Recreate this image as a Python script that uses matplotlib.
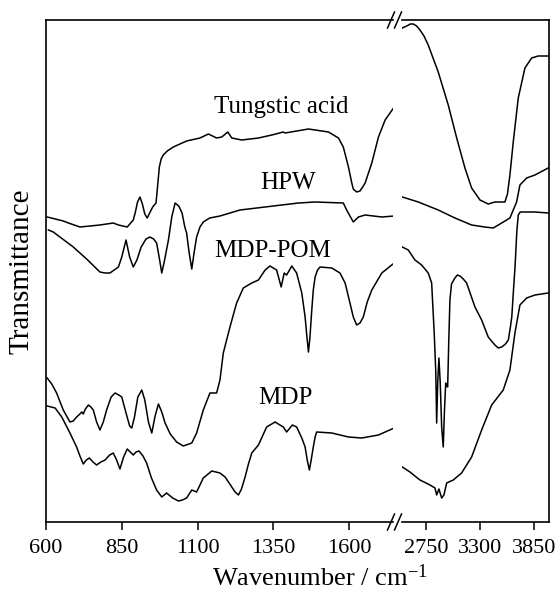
import matplotlib
matplotlib.use("Agg")
import matplotlib.pyplot as plt
from matplotlib.lines import Line2D

plt.rcParams['font.family'] = ['Liberation Serif', 'DejaVu Serif']
plt.rcParams['mathtext.fontset'] = 'custom'
plt.rcParams['mathtext.rm'] = 'Liberation Serif'
plt.rcParams['mathtext.it'] = 'Liberation Serif:italic'

# ---- spectra, low wavenumber part (600-1750 cm-1) ----
tung_wn = [604, 657, 674, 712, 778, 822, 839, 868, 888, 895, 902, 910, 918, 926, 934, 942,
           952, 963, 968, 974, 980, 987, 1000, 1020, 1064, 1108, 1136, 1163, 1180, 1200,
           1213, 1246, 1301, 1345, 1383, 1389, 1466, 1532, 1565, 1581, 1598, 1609, 1614,
           1625, 1636, 1645, 1653, 1675, 1697, 1719, 1749]
tung_t = [305, 301, 299, 295, 297, 299, 297, 295, 302, 310, 320, 325, 318, 308, 304, 309,
          315, 319, 335, 355, 363, 367, 371, 375, 381, 384, 388, 384, 385, 390,
          384, 382, 384, 387, 390, 389, 393, 390, 384, 375, 355, 339, 333,
          330, 331, 335, 339, 359, 385, 402, 415]

hpw_wn = [608, 624, 646, 690, 734, 778, 795, 811, 839, 850, 864, 876, 888, 900, 914, 930,
          943, 955, 965, 975, 982, 990, 1004, 1015, 1026, 1038, 1049, 1058, 1064, 1072,
          1081, 1088, 1097, 1108, 1119, 1140, 1174, 1240, 1323, 1433, 1488, 1581, 1592,
          1614, 1631, 1653, 1708, 1749]
hpw_t = [292, 290, 285, 275, 263, 250, 249, 249, 255, 265, 282, 265, 255, 262, 275, 283,
         285, 283, 279, 262, 249, 260, 282, 305, 319, 316, 309, 295, 289, 270,
         253, 268, 285, 295, 300, 304, 306, 312, 315, 319, 320, 319, 312,
         300, 305, 307, 305, 306]

mdppom_wn = [604, 619, 635, 657, 679, 690, 701, 712, 718, 723, 730, 740, 748, 756, 767,
             778, 789, 800, 815, 828, 840, 850, 865, 876, 883, 892, 903, 916, 926, 938,
             949, 960, 971, 982, 993, 1010, 1031, 1053, 1081, 1097, 1119, 1141, 1163,
             1174, 1185, 1207, 1229, 1251, 1279, 1301, 1323, 1339, 1361, 1376, 1386,
             1394, 1411, 1427, 1444, 1455, 1461, 1466, 1471, 1477, 1482, 1488, 1496,
             1504, 1543, 1570, 1587, 1603, 1614, 1625, 1636, 1647, 1660, 1675, 1708, 1749]
mdppom_t = [144, 138, 129, 112, 100, 101, 105, 108, 110, 108, 113, 117, 115, 112, 100,
            92, 100, 112, 125, 129, 127, 125, 108, 96, 94, 105, 125, 132, 122, 100,
            89, 106, 118, 110, 99, 88, 80, 76, 79, 89, 112, 129, 129,
            142, 169, 195, 219, 234, 239, 242, 252, 256, 252, 235, 249,
            247, 256, 249, 229, 205, 185, 170, 185, 212, 232, 245, 252,
            255, 254, 249, 239, 219, 205, 197, 199, 205, 220, 232, 249, 259]

mdp_wn = [604, 630, 652, 679, 701, 712, 723, 733, 743, 755, 767, 781, 795, 810, 822, 833,
          844, 856, 868, 878, 888, 897, 907, 920, 932, 948, 965, 982, 998, 1018, 1037,
          1050, 1064, 1081, 1097, 1119, 1147, 1174, 1191, 1213, 1224, 1235, 1245, 1257,
          1268, 1279, 1301, 1328, 1356, 1372, 1383, 1394, 1413, 1427, 1444, 1455, 1462,
          1469, 1475, 1482, 1488, 1493, 1543, 1598, 1642, 1697, 1749]
mdp_t = [116, 114, 105, 89, 75, 66, 58, 62, 64, 60, 57, 60, 62, 67, 69, 62,
         53, 65, 73, 70, 67, 70, 71, 66, 59, 44, 32, 25, 29, 24, 21,
         22, 24, 32, 30, 44, 51, 49, 45, 35, 30, 27, 33, 45,
         58, 69, 77, 95, 100, 97, 95, 90, 97, 95, 84, 75, 62,
         52, 62, 75, 85, 90, 89, 85, 84, 87, 94]

# ---- spectra, high wavenumber part (2500-4000 cm-1) ----
tung_wn2 = [2509, 2554, 2590, 2621, 2655, 2689, 2730, 2773, 2875, 2977, 3063, 3147, 3215,
            3300, 3384, 3452, 3554, 3580, 3605, 3639, 3690, 3758, 3826, 3893, 3995]
tung_t2 = [494, 496, 498, 498, 496, 492, 486, 477, 450, 417, 384, 354, 334,
           322, 318, 320, 320, 328, 347, 380, 424, 454, 464, 466, 466]

hpw_wn2 = [2509, 2672, 2875, 3045, 3215, 3347, 3435, 3521, 3605, 3673, 3707, 3775,
           3860, 3995]
hpw_t2 = [325, 320, 312, 304, 297, 295, 294, 299, 304, 320, 337, 344, 347, 354]

mdppom_wn2 = [2509, 2570, 2638, 2706, 2773, 2808, 2834, 2850, 2859, 2870, 2882, 2895,
              2910, 2926, 2938, 2951, 2961, 2971, 2982, 2994, 3010, 3045, 3070, 3096,
              3130, 3164, 3249, 3317, 3384, 3452, 3487, 3521, 3560, 3589, 3610, 3624,
              3640, 3657, 3675, 3690, 3710, 3741, 3860, 3995]
mdppom_t2 = [275, 272, 262, 257, 249, 239, 189, 150, 99, 140, 164, 140,
             95, 75, 110, 139, 136, 135, 180, 222, 238, 244, 247, 246,
             243, 239, 215, 202, 185, 177, 174, 175, 178, 182, 195, 205,
             230, 255, 290, 307, 310, 310, 310, 309]

mdp_wn2 = [2509, 2587, 2689, 2791, 2842, 2859, 2882, 2910, 2933, 2961, 3028, 3113,
           3215, 3317, 3419, 3537, 3605, 3656, 3707, 3775, 3860, 3995]
mdp_t2 = [55, 50, 42, 37, 34, 27, 33, 24, 27, 39, 42, 49,
          65, 92, 117, 132, 152, 189, 217, 224, 227, 229]

labels = ['Tungstic acid', 'HPW', 'MDP-POM', 'MDP']
label_x = [1377, 1397, 1348, 1390]
label_y = [409, 333, 265, 118]

left_ticks = [600, 850, 1100, 1350, 1600]
right_ticks = [2750, 3300, 3850]

W, H = 558, 599
fig = plt.figure(figsize=(W / 100, H / 100), dpi=100)

ax1 = fig.add_axes([46 / W, 1 - 522 / H, (393 - 46) / W, 502 / H])
ax2 = fig.add_axes([402 / W, 1 - 522 / H, (549 - 402) / W, 502 / H])

lw = 1.1
for wn, t in [(tung_wn, tung_t), (hpw_wn, hpw_t), (mdppom_wn, mdppom_t), (mdp_wn, mdp_t)]:
    ax1.plot(wn, t, color='black', lw=lw)
for wn, t in [(tung_wn2, tung_t2), (hpw_wn2, hpw_t2), (mdppom_wn2, mdppom_t2), (mdp_wn2, mdp_t2)]:
    ax2.plot(wn, t, color='black', lw=lw)

for s, x, y in zip(labels, label_x, label_y):
    ax1.text(x, y, s, ha='center', va='baseline', fontsize=18)

ax1.set_xlim(600, 1745)
ax2.set_xlim(2506, 4003)
for ax in (ax1, ax2):
    ax.set_ylim(0, 502)
    ax.set_yticks([])
    ax.tick_params(axis='x', direction='out', length=6, width=1.1, labelsize=16, pad=6)
    for sp in ax.spines.values():
        sp.set_linewidth(1.2)
ax1.set_xticks(left_ticks)
ax2.set_xticks(right_ticks)
ax1.spines['right'].set_visible(False)
ax2.spines['left'].set_visible(False)

ax1.set_ylabel('Transmittance', fontsize=21, labelpad=8)
fig.text(320 / W, 1 - 578 / H, 'Wavenumber / cm$^{-1}$', ha='center', va='center', fontsize=19)

# break marks
for yy in (20, 522):
    for xx in (391, 398):
        fig.add_artist(Line2D([(xx - 3.5) / W, (xx + 3.5) / W],
                              [1 - (yy + 8) / H, 1 - (yy - 8) / H],
                              color='black', lw=1.1, transform=fig.transFigure))

fig.savefig('out.png', dpi=100)
